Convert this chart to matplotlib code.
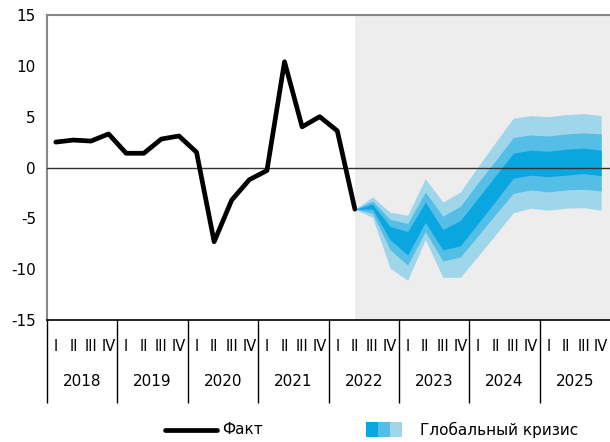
import numpy as np
import matplotlib
matplotlib.use("Agg")
import matplotlib.pyplot as plt
import matplotlib.transforms as mtransforms
from matplotlib.patches import Rectangle
from matplotlib.lines import Line2D

plt.rcParams['font.family'] = ['Liberation Sans Narrow', 'DejaVu Sans']
plt.rcParams['axes.unicode_minus'] = False

# данные
years = ['2018', '2019', '2020', '2021', '2022', '2023', '2024', '2025']
quarters = ['I', 'II', 'III', 'IV']

# факт: 2018 I - 2022 II
fact = [2.5, 2.7, 2.6, 3.3, 1.4, 1.4, 2.8, 3.1, 1.5, -7.3, -3.2, -1.2,
        -0.3, 10.4, 4.0, 5.0, 3.6, -4.1]

# веер прогноза: 2022 II - 2025 IV
outer_up = [-4.1, -2.9, -4.4, -4.7, -1.1, -3.4, -2.4, 0.1, 2.5, 4.85, 5.1, 5.0, 5.2, 5.3, 5.1]
mid_up = [-4.1, -3.3, -5.1, -5.5, -2.4, -4.8, -3.8, -1.5, 0.7, 2.95, 3.2, 3.1, 3.3, 3.4, 3.3]
dark_up = [-4.1, -3.6, -5.8, -6.3, -3.4, -6.1, -5.2, -3.0, -0.8, 1.4, 1.7, 1.6, 1.8, 1.9, 1.7]
dark_lo = [-4.1, -4.1, -7.1, -8.6, -5.4, -8.1, -7.7, -5.5, -3.3, -1.05, -0.75, -0.9, -0.75, -0.6, -0.8]
mid_lo = [-4.1, -4.5, -8.1, -9.6, -6.3, -9.2, -8.8, -6.7, -4.6, -2.55, -2.2, -2.4, -2.2, -2.15, -2.3]
outer_lo = [-4.1, -4.9, -9.9, -11.1, -7.1, -10.8, -10.8, -8.7, -6.6, -4.45, -4.0, -4.2, -4.0, -3.95, -4.2]

c_dark = '#0AA6DF'
c_mid = '#55BEE6'
c_light = '#A0D6EA'

n_q = len(years) * 4
x_fact = np.arange(len(fact))
x_fan = np.arange(len(fact) - 1, n_q)

fig = plt.figure(figsize=(6.1, 4.42), dpi=100)
ax = fig.add_axes([47/610, 1 - 320/442, 1 - 47/610, 305/442])

ax.axvspan(x_fan[0], n_q - 0.5, color='#EDEDED', lw=0, zorder=0)

ax.fill_between(x_fan, outer_lo, outer_up, color=c_light, lw=0, zorder=1)
ax.fill_between(x_fan, mid_lo, mid_up, color=c_mid, lw=0, zorder=2)
ax.fill_between(x_fan, dark_lo, dark_up, color=c_dark, lw=0, zorder=3)

ax.axhline(0, color='#333333', lw=1.0, zorder=4)
ax.plot(x_fact, fact, color='black', lw=3.4, zorder=5, solid_capstyle='round')

ax.set_xlim(-0.5, n_q - 0.5)
ax.set_ylim(-15, 15)
ax.set_yticks(np.arange(-15, 16, 5))
ax.tick_params(axis='y', length=0, pad=8, labelsize=11)

# подписи кварталов и годов
ax.set_xticks(np.arange(n_q))
ax.set_xticklabels(quarters * len(years))
ax.tick_params(axis='x', which='major', length=0, pad=14, labelsize=10.5)
ax.set_xticks(np.arange(-0.5, n_q - 1, 4), minor=True)
ax.tick_params(axis='x', which='minor', length=60, width=1.0, color='black')

trans = mtransforms.blended_transform_factory(ax.transData, ax.transAxes)
for k, yr in enumerate(years):
    ax.text(4 * k + 1.5, -0.2, yr, transform=trans, ha='center', va='center',
            fontsize=11)

for s in ['top', 'left']:
    ax.spines[s].set_color('#888888')
    ax.spines[s].set_linewidth(1.5)
ax.spines['right'].set_visible(False)
ax.spines['bottom'].set_color('black')
ax.spines['bottom'].set_linewidth(1.2)

# легенда
fig.add_artist(Line2D([165/610, 217/610], [1 - 430/442, 1 - 430/442],
                      color='black', lw=3.4, solid_capstyle='round'))
fig.text(222/610, 1 - 430/442, 'Факт', va='center', fontsize=11)
for k, c in enumerate([c_dark, c_mid, c_light]):
    fig.add_artist(Rectangle(((366 + 12 * k)/610, 1 - 437/442), 12/610, 15/442,
                             color=c, lw=0))
fig.text(420/610, 1 - 430/442, 'Глобальный кризис', va='center', fontsize=11)

fig.savefig('out.png', dpi=100)
